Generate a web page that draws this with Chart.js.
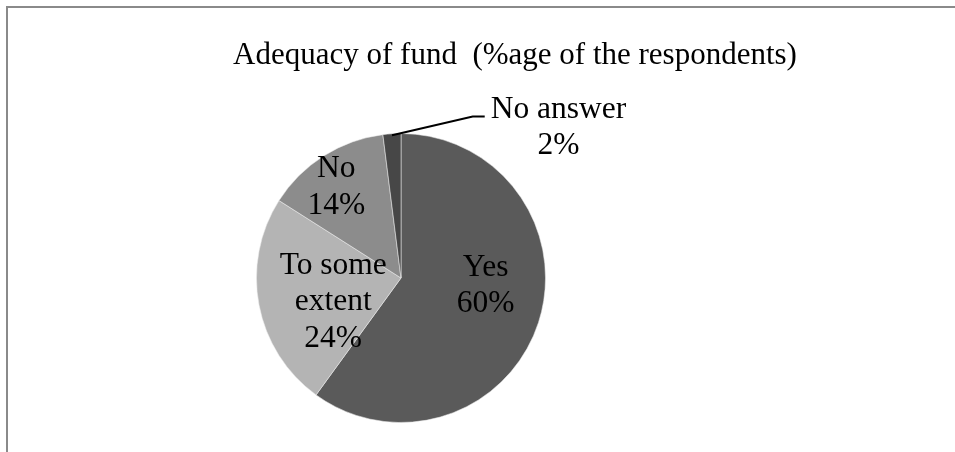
<!DOCTYPE html>
<html>
<head>
<meta charset="utf-8">
<script src="https://cdn.jsdelivr.net/npm/chart.js@4.4.1/dist/chart.umd.min.js"></script>
<style>
  html, body { margin: 0; padding: 0; background: #ffffff; }
  #wrap { width: 955px; height: 452px; position: relative; }
</style>
</head>
<body>
<div id="wrap"><canvas id="c" width="955" height="452"></canvas></div>
<script>
// ---- data ----
const titleText = "Adequacy of fund  (%age of the respondents)";
const categories = ["Yes", "To some extent", "No", "No answer"];
const labelLines = [["Yes"], ["To some", "extent"], ["No"], ["No answer"]];
const values = [60, 24, 14, 2];

// ---- styles ----
const sliceColors = ["#5a5a5a", "#b4b4b4", "#8c8c8c", "#474747"];
const rimColors   = ["#7c7c7c", "#cfcfcf", "#a8a8a8", "#606060"];
const TITLE_FONT = "31px 'Liberation Serif', 'Times New Roman', serif";
const FONT = "31.5px 'Liberation Serif', 'Times New Roman', serif";
const LINE_H = 36.5;
// label anchor (centre x, first baseline) relative to pie centre, in units of radius
const labelAnchors = [
  { dx: 0.586, dy: -0.014 },
  { dx: -0.469, dy: -0.028 },
  { dx: -0.448, dy: -0.697 },
  { dx: 1.09, dy: -1.11, outside: true }
];

function sliceFill() {
  return function (ctx) {
    const chart = ctx.chart;
    const meta = chart.getDatasetMeta(0);
    const arc = meta.data[ctx.dataIndex];
    const idx = ctx.dataIndex;
    if (!arc || !arc.outerRadius) return sliceColors[idx];
    const g = chart.ctx.createRadialGradient(arc.x, arc.y, 0, arc.x, arc.y, arc.outerRadius);
    g.addColorStop(0, sliceColors[idx]);
    g.addColorStop(0.90, sliceColors[idx]);
    g.addColorStop(0.965, rimColors[idx]);
    g.addColorStop(1, sliceColors[idx]);
    return g;
  };
}

const decorPlugin = {
  id: 'decor',
  beforeDraw(chart) {
    const c = chart.ctx;
    c.save();
    c.strokeStyle = '#8a8a8a';
    c.lineWidth = 2;
    c.beginPath();
    c.moveTo(955, 7);
    c.lineTo(7, 7);
    c.lineTo(7, 452);
    c.stroke();
    // title
    c.fillStyle = '#000';
    c.font = TITLE_FONT;
    c.textAlign = 'center';
    c.textBaseline = 'alphabetic';
    c.fillText(titleText, 515, 64);
    c.restore();
  },
  afterDatasetsDraw(chart) {
    const c = chart.ctx;
    const meta = chart.getDatasetMeta(0);
    const arc0 = meta.data[0];
    const cx = arc0.x, cy = arc0.y, r = arc0.outerRadius;
    const total = values.reduce((a, b) => a + b, 0);
    c.save();
    c.font = FONT;
    c.fillStyle = '#000';
    c.textAlign = 'center';
    c.textBaseline = 'alphabetic';
    meta.data.forEach((arc, i) => {
      const a = labelAnchors[i];
      const x = cx + a.dx * r;
      const y = cy + a.dy * r;
      const pct = Math.round(values[i] / total * 100) + '%';
      const lines = labelLines[i].concat([pct]);
      lines.forEach((t, k) => c.fillText(t, x, y + k * LINE_H));
      if (a.outside) {
        const mid = (arc.startAngle + arc.endAngle) / 2;
        const sx = cx + Math.cos(mid) * r * 0.99;
        const sy = cy + Math.sin(mid) * r * 0.99;
        const w = c.measureText(labelLines[i][0]).width;
        const ex = x - w / 2 - 6;
        const ey = y - 1;
        c.strokeStyle = '#000';
        c.lineWidth = 2;
        c.beginPath();
        c.moveTo(sx, sy);
        c.lineTo(ex - 12, ey);
        c.lineTo(ex, ey);
        c.stroke();
      }
    });
    c.restore();
  }
};

new Chart(document.getElementById('c'), {
  type: 'pie',
  data: {
    labels: categories,
    datasets: [{
      data: values,
      backgroundColor: sliceFill(),
      borderColor: 'rgba(235,235,235,0.55)',
      borderWidth: 1
    }]
  },
  options: {
    responsive: false,
    animation: false,
    rotation: 0,
    layout: { padding: { left: 256, right: 409, top: 133, bottom: 29 } },
    plugins: {
      legend: { display: false },
      title: { display: false },
      tooltip: { enabled: false }
    },
    events: []
  },
  plugins: [decorPlugin]
});
</script>
</body>
</html>
